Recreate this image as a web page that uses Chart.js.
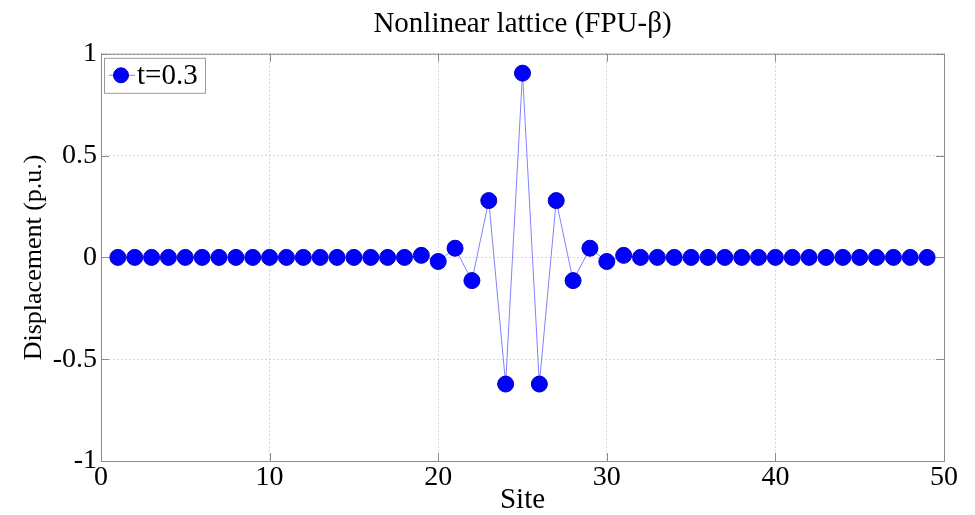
<!DOCTYPE html>
<html>
<head>
<meta charset="utf-8">
<script src="https://cdn.jsdelivr.net/npm/chart.js@4"></script>
<style>
  html, body { margin: 0; padding: 0; background: #fff; }
  #wrap { width: 975px; height: 515px; }
</style>
</head>
<body>
<div id="wrap"><canvas id="myChart"></canvas></div>
<script>
// lattice sites 1..49 and their displacement at t=0.3
var sites = [1, 2, 3, 4, 5, 6, 7, 8, 9, 10, 11, 12, 13, 14, 15, 16, 17, 18, 19, 20,
             21, 22, 23, 24, 25, 26, 27, 28, 29, 30, 31, 32, 33, 34, 35, 36, 37, 38, 39, 40,
             41, 42, 43, 44, 45, 46, 47, 48, 49];
var displacement = [0, 0, 0, 0, 0, 0, 0, 0, 0, 0, 0, 0, 0, 0, 0, 0, 0, 0, 0.01, -0.02,
                    0.045, -0.114, 0.279, -0.622, 0.905, -0.622, 0.279, -0.114, 0.045, -0.02, 0.01, 0, 0, 0, 0, 0, 0, 0, 0, 0,
                    0, 0, 0, 0, 0, 0, 0, 0, 0];
var seriesLabel = "t=0.3";
var xTicks = [0, 10, 20, 30, 40, 50];
var yTicks = [-1, -0.5, 0, 0.5, 1];

var serif = "'Liberation Serif', 'DejaVu Serif', serif";

// MATLAB style box, inner tick marks and legend inside the axes
var matlabAxes = {
    id: 'matlabAxes',
    afterDraw: function(chart) {
        var ctx = chart.ctx;
        var a = chart.chartArea;
        var xs = chart.scales.x, ys = chart.scales.y;
        ctx.save();
        ctx.strokeStyle = '#8c8c8c';
        ctx.lineWidth = 1;
        ctx.strokeRect(a.left + 0.5, a.top + 0.5, a.right - a.left, a.bottom - a.top);
        ctx.beginPath();
        xTicks.forEach(function(v) {
            var px = Math.round(xs.getPixelForValue(v)) + 0.5;
            ctx.moveTo(px, a.bottom); ctx.lineTo(px, a.bottom - 8);
            ctx.moveTo(px, a.top); ctx.lineTo(px, a.top + 8);
        });
        yTicks.forEach(function(v) {
            var py = Math.round(ys.getPixelForValue(v)) + 0.5;
            ctx.moveTo(a.left, py); ctx.lineTo(a.left + 8, py);
            ctx.moveTo(a.right, py); ctx.lineTo(a.right - 8, py);
        });
        ctx.stroke();

        // legend
        var ds = chart.data.datasets[0];
        var lx = a.left + 3, ly = a.top + 4, lw = 101, lh = 35;
        ctx.fillStyle = '#fff';
        ctx.fillRect(lx, ly, lw, lh);
        ctx.strokeStyle = '#9a9a9a';
        ctx.strokeRect(lx + 0.5, ly + 0.5, lw, lh);
        var cy = ly + lh / 2;
        ctx.strokeStyle = ds.borderColor;
        ctx.beginPath();
        ctx.moveTo(lx + 5, cy); ctx.lineTo(lx + 31, cy);
        ctx.stroke();
        ctx.fillStyle = ds.pointBackgroundColor;
        ctx.strokeStyle = ds.pointBorderColor;
        ctx.beginPath();
        ctx.arc(lx + 17, cy, 7.5, 0, Math.PI * 2);
        ctx.fill(); ctx.stroke();
        ctx.fillStyle = '#000';
        ctx.font = "29px " + serif;
        ctx.textBaseline = 'middle';
        ctx.fillText(ds.label, lx + 33, cy + 1);
        ctx.restore();
    }
};

const el = document.getElementById('myChart');

const data = {
    datasets: [{
        label: seriesLabel,
        data: sites.map(function(s, i) { return { x: s, y: displacement[i] }; }),
        showLine: true,
        borderColor: 'rgb(130, 130, 255)',
        borderWidth: 1,
        pointRadius: 8,
        pointHoverRadius: 8,
        pointBackgroundColor: 'rgb(0, 0, 255)',
        pointBorderColor: 'rgb(0, 0, 190)',
        pointBorderWidth: 1,
        tension: 0
    }]
};

const config = {
    type: 'scatter',
    data: data,
    options: {
        responsive: true,
        maintainAspectRatio: false,
        animation: false,
        layout: { padding: { left: 0, right: 31, top: 0, bottom: 0 } },
        plugins: {
            legend: { display: false },
            tooltip: { enabled: false },
            title: {
                display: true,
                text: 'Nonlinear lattice (FPU-β)',
                fullSize: false,
                color: '#000',
                font: { family: serif, size: 29, weight: 'normal', lineHeight: 1.2 },
                padding: { top: 7, bottom: 12 }
            }
        },
        scales: {
            x: {
                type: 'linear',
                min: 0,
                max: 50,
                afterFit: function(s) { s.height = 54; },
                afterBuildTicks: function(s) { s.ticks = xTicks.map(function(v) { return { value: v }; }); },
                grid: { color: '#d8d8d8', drawTicks: false },
                border: { display: false, dash: [2, 2] },
                ticks: {
                    color: '#000',
                    padding: 0,
                    maxRotation: 0,
                    font: { family: serif, size: 28 }
                },
                title: {
                    display: true,
                    text: 'Site',
                    color: '#000',
                    font: { family: serif, size: 29, lineHeight: 1 },
                    padding: { top: 0, bottom: 0 }
                }
            },
            y: {
                min: -1,
                max: 1,
                afterFit: function(s) { s.width = 101; },
                afterBuildTicks: function(s) { s.ticks = yTicks.map(function(v) { return { value: v }; }); },
                grid: { color: '#d8d8d8', drawTicks: false },
                border: { display: false, dash: [2, 2] },
                ticks: {
                    color: '#000',
                    padding: 4,
                    font: { family: serif, size: 28 },
                    callback: function(v) { return String(v); }
                },
                title: {
                    display: true,
                    text: 'Displacement (p.u.)',
                    color: '#000',
                    font: { family: serif, size: 26, lineHeight: 1.2 },
                    padding: { top: 19, bottom: 0 }
                }
            }
        }
    },
    plugins: [matlabAxes]
};

new Chart(el, config);
</script>
</body>
</html>
